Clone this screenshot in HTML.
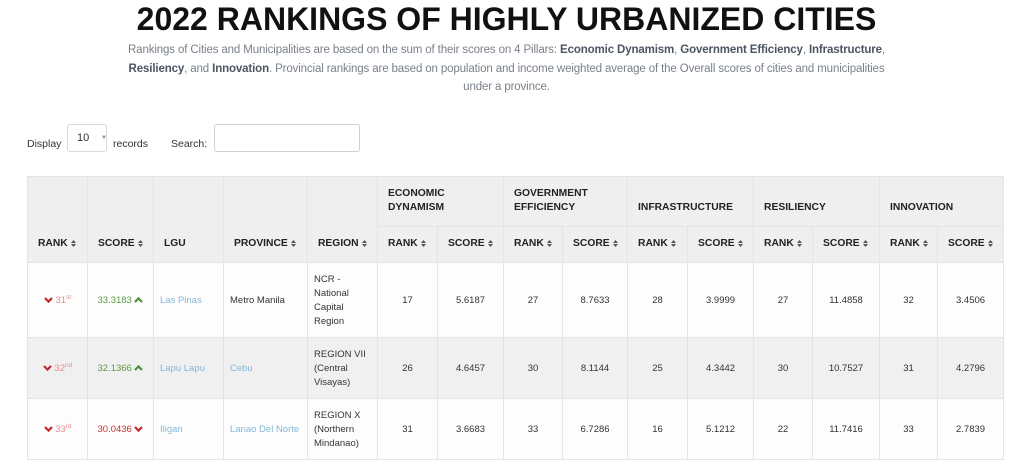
<!DOCTYPE html>
<html><head><meta charset="utf-8">
<style>
html,body{margin:0;padding:0;background:#fff;}
body{width:1024px;height:472px;position:relative;overflow:hidden;font-family:"Liberation Sans",Arial,sans-serif;color:#333;}
.title{position:absolute;left:0;top:2.5px;width:1013px;text-align:center;font-size:32px;line-height:32px;font-weight:bold;color:#111;white-space:nowrap;}
.sub{position:absolute;left:0;width:1013px;text-align:center;font-size:11.5px;line-height:18px;color:#7a808a;white-space:nowrap;letter-spacing:-0.13px;}
.sub b{color:#4d5562;}
.lbl{position:absolute;font-size:10.5px;line-height:12px;color:#333;white-space:nowrap;}
.box{position:absolute;border:1px solid #d9d9d9;border-radius:3px;background:#fff;box-sizing:border-box;}
table{position:absolute;left:27px;top:176px;width:976px;border-collapse:collapse;table-layout:fixed;}
th,td{border:1px solid #e4e4e4;padding:0;}
th{background:#efefef;font-size:10.3px;line-height:14px;font-weight:bold;color:#222;text-align:left;vertical-align:bottom;padding:0 0 11px 10px;white-space:nowrap;}
th.g{white-space:normal;}
td{font-size:9.5px;line-height:14px;vertical-align:middle;text-align:center;color:#333;padding-top:2px;}
tr.w td{background:#fdfdfd;}
tr.s td{background:#f0f0f0;}
td.l{text-align:left;padding-left:6px;}
a{color:#82b9d8;text-decoration:none;}
.si{display:inline-block;width:5px;height:7px;margin-left:3px;vertical-align:-1px;}
.rk{color:#e58d8d;}
.rk sup{font-size:6.5px;line-height:0;vertical-align:4px;}
.up{color:#5b9a45;}
.dn{color:#c93535;}
.ch{display:inline-block;vertical-align:0px;}
</style></head><body>
<div class="title">2022 RANKINGS OF HIGHLY URBANIZED CITIES</div>
<div class="sub" style="top:41px">Rankings of Cities and Municipalities are based on the sum of their scores on 4 Pillars: <b>Economic Dynamism</b>, <b>Government Efficiency</b>, <b>Infrastructure</b>,</div>
<div class="sub" style="top:59.5px"><b>Resiliency</b>, and <b>Innovation</b>. Provincial rankings are based on population and income weighted average of the Overall scores of cities and municipalities</div>
<div class="sub" style="top:77.8px">under a province.</div>

<div class="lbl" style="left:27px;top:137.5px">Display</div>
<div class="box" style="left:67px;top:124px;width:40px;height:28px;"></div>
<div class="lbl" style="left:77px;top:131.5px;font-size:11px">10</div>
<div class="lbl" style="left:101px;top:132px;font-size:6px;color:#888">▼</div>
<div class="lbl" style="left:113px;top:137.5px">records</div>
<div class="lbl" style="left:171px;top:137.5px">Search:</div>
<div class="box" style="left:214px;top:124px;width:146px;height:28px;border-color:#d0d0d0"></div>

<svg width="0" height="0" style="position:absolute">
<defs>
<symbol id="sort" viewBox="0 0 5 7"><polygon points="0,3 2.5,0 5,3" fill="#555"/><polygon points="0,4 2.5,7 5,4" fill="#555"/></symbol>
</defs></svg>

<table>
<colgroup>
<col style="width:60px"><col style="width:66px"><col style="width:70px"><col style="width:84px"><col style="width:70px">
<col style="width:60px"><col style="width:66px"><col style="width:59px"><col style="width:65px"><col style="width:60px">
<col style="width:66px"><col style="width:59px"><col style="width:67px"><col style="width:58px"><col style="width:66px">
</colgroup>
<tr style="height:50px">
<th rowspan="2">RANK<svg class="si"><use href="#sort"/></svg></th>
<th rowspan="2">SCORE<svg class="si"><use href="#sort"/></svg></th>
<th rowspan="2">LGU</th>
<th rowspan="2">PROVINCE<svg class="si"><use href="#sort"/></svg></th>
<th rowspan="2">REGION<svg class="si"><use href="#sort"/></svg></th>
<th colspan="2" class="g">ECONOMIC<br>DYNAMISM</th>
<th colspan="2" class="g">GOVERNMENT<br>EFFICIENCY</th>
<th colspan="2" class="g">INFRASTRUCTURE</th>
<th colspan="2" class="g">RESILIENCY</th>
<th colspan="2" class="g">INNOVATION</th>
</tr>
<tr style="height:36px">
<th>RANK<svg class="si"><use href="#sort"/></svg></th><th>SCORE<svg class="si"><use href="#sort"/></svg></th>
<th>RANK<svg class="si"><use href="#sort"/></svg></th><th>SCORE<svg class="si"><use href="#sort"/></svg></th>
<th>RANK<svg class="si"><use href="#sort"/></svg></th><th>SCORE<svg class="si"><use href="#sort"/></svg></th>
<th>RANK<svg class="si"><use href="#sort"/></svg></th><th>SCORE<svg class="si"><use href="#sort"/></svg></th>
<th>RANK<svg class="si"><use href="#sort"/></svg></th><th>SCORE<svg class="si"><use href="#sort"/></svg></th>
</tr>
<tr class="w" style="height:75px">
<td><svg class="ch" width="9" height="6" viewBox="0 0 9 6"><polyline points="1,1 4.5,4.6 8,1" fill="none" stroke="#c0282d" stroke-width="2.2"/></svg> <span class="rk">31<sup>st</sup></span></td>
<td><span class="up">33.3183</span> <svg class="ch" width="9" height="6" viewBox="0 0 9 6"><polyline points="1,5 4.5,1.4 8,5" fill="none" stroke="#4f8f3a" stroke-width="2.2"/></svg></td>
<td class="l"><a>Las Pinas</a></td>
<td class="l">Metro Manila</td>
<td class="l">NCR -<br>National<br>Capital<br>Region</td>
<td>17</td><td>5.6187</td><td>27</td><td>8.7633</td><td>28</td><td>3.9999</td><td>27</td><td>11.4858</td><td>32</td><td>3.4506</td>
</tr>
<tr class="s" style="height:61px">
<td><svg class="ch" width="9" height="6" viewBox="0 0 9 6"><polyline points="1,1 4.5,4.6 8,1" fill="none" stroke="#c0282d" stroke-width="2.2"/></svg> <span class="rk">32<sup>nd</sup></span></td>
<td><span class="up">32.1366</span> <svg class="ch" width="9" height="6" viewBox="0 0 9 6"><polyline points="1,5 4.5,1.4 8,5" fill="none" stroke="#4f8f3a" stroke-width="2.2"/></svg></td>
<td class="l"><a>Lapu Lapu</a></td>
<td class="l"><a>Cebu</a></td>
<td class="l">REGION VII<br>(Central<br>Visayas)</td>
<td>26</td><td>4.6457</td><td>30</td><td>8.1144</td><td>25</td><td>4.3442</td><td>30</td><td>10.7527</td><td>31</td><td>4.2796</td>
</tr>
<tr class="w" style="height:61px">
<td><svg class="ch" width="9" height="6" viewBox="0 0 9 6"><polyline points="1,1 4.5,4.6 8,1" fill="none" stroke="#c0282d" stroke-width="2.2"/></svg> <span class="rk">33<sup>rd</sup></span></td>
<td><span class="dn">30.0436</span> <svg class="ch" width="9" height="6" viewBox="0 0 9 6"><polyline points="1,1 4.5,4.6 8,1" fill="none" stroke="#c0282d" stroke-width="2.2"/></svg></td>
<td class="l"><a>Iligan</a></td>
<td class="l"><a>Lanao Del Norte</a></td>
<td class="l">REGION X<br>(Northern<br>Mindanao)</td>
<td>31</td><td>3.6683</td><td>33</td><td>6.7286</td><td>16</td><td>5.1212</td><td>22</td><td>11.7416</td><td>33</td><td>2.7839</td>
</tr>
</table>
</body></html>
